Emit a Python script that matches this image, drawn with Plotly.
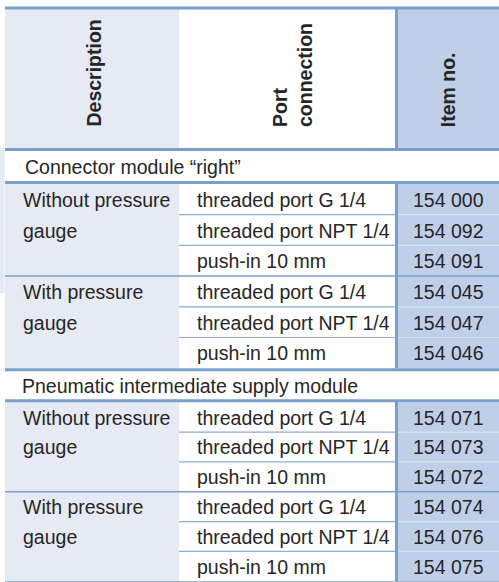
import plotly.graph_objects as go

# ---------------- data ----------------
header_labels = ["Description", "Port<br>connection", "Item no."]
sections = ["Connector module “right”", "Pneumatic intermediate supply module"]
description_lines = [["Without pressure", "gauge"], ["With pressure", "gauge"]]
ports = ["threaded port G 1/4", "threaded port NPT 1/4", "push-in 10 mm"]
item_numbers = [
    [["154 000", "154 092", "154 091"], ["154 045", "154 047", "154 046"]],
    [["154 071", "154 073", "154 072"], ["154 074", "154 076", "154 075"]],
]

# ---------------- style / layout ----------------
W, H = 499, 582
X0, X1, X2, X3 = 5, 179, 396.5, 499
LIGHT = "#E6EAF4"
ITEM = "#BFCFE7"
LINE = "#7A9FCD"
THIN = "#8DACD7"
THIN_ITEM = "#D9E2F1"
TXT = "#262626"
FONT = "Liberation Sans, Arial, sans-serif"
FS = 19.5

sec_h = [30, 28]
row_h = [30.7, 29.85]

shapes = []
annotations = []


def rect(x0, y0, x1, y1, color):
    shapes.append(dict(type="rect", xref="x", yref="y", x0=x0, x1=x1, y0=y0, y1=y1,
                       fillcolor=color, line=dict(width=0), layer="below"))


def hline(x0, x1, y, color, w):
    shapes.append(dict(type="line", xref="x", yref="y", x0=x0, x1=x1, y0=y, y1=y,
                       line=dict(color=color, width=w)))


def vline(x, y0, y1, color, w):
    shapes.append(dict(type="line", xref="x", yref="y", x0=x, x1=x, y0=y0, y1=y1,
                       line=dict(color=color, width=w)))


def text(x, y, s, xanchor="left", bold=False, angle=0, yanchor="middle", align="left"):
    annotations.append(dict(x=x, y=y, xref="x", yref="y", text=s, showarrow=False,
                            xanchor=xanchor, yanchor=yanchor, align=align, textangle=angle,
                            font=dict(family=FONT, size=FS, color=TXT,
                                      weight="bold" if bold else "normal")))


# left page strip artifact
rect(0, 148, 4.5, 293, LIGHT)

# header
top_line = 8
head_bot = 149.5
rect(X0, top_line, X1, head_bot, LIGHT)
rect(X2, top_line, X3, head_bot, ITEM)
vline(X2, top_line, head_bot, LINE, 3)
hline(X0, X3, top_line, LINE, 3)
text((X0 + X1) / 2 + 1, 129, header_labels[0], xanchor="center", bold=True, angle=-90, yanchor="bottom")
text(292, 129, header_labels[1], xanchor="center", bold=True, angle=-90, yanchor="bottom")
text((X2 + X3) / 2, 129, header_labels[2], xanchor="center", bold=True, angle=-90, yanchor="bottom")

y = head_bot
for si, sec in enumerate(sections):
    # section title row (white)
    sy0 = y + 1.5
    sy1 = sy0 + sec_h[si]
    text(X0 + 18 if si == 0 else X0 + 15, (sy0 + sy1) / 2 + 0.5, sec)
    y = sy1 + 1.5  # center of thick line below section
    hline(X0, X3, y, LINE, 3)
    block_top = y + 1.5
    rh = row_h[si]
    ry = block_top
    for gi, desc in enumerate(description_lines):
        gy0 = ry
        gy1 = gy0 + 3 * rh
        rect(X0, gy0, X1, gy1, LIGHT)
        rect(X2, gy0, X3, gy1, ITEM)
        for li, line_txt in enumerate(desc):
            text(X0 + 15.5, gy0 + (li + 0.5) * rh + 0.5, line_txt)
        for pi, port in enumerate(ports):
            cy = gy0 + (pi + 0.5) * rh + 0.5
            text(X1 + 15.5, cy, port)
            text((X2 + X3) / 2 + 1, cy, item_numbers[si][gi][pi], xanchor="center")
            if pi > 0:
                ly = gy0 + pi * rh
                hline(X1, X2, ly, THIN, 1.2)
                hline(X2 + 1.5, X3, ly, THIN_ITEM, 1.2)
        if gi > 0:
            hline(X0, X3, gy0, LINE, 1.5)
        ry = gy1
    vline(X2, block_top - 1.5, ry, LINE, 3)
    y = ry + 1.5
    hline(X0, X3, y, LINE, 3)

hline(X0, X3, head_bot, LINE, 3)

fig = go.Figure()
fig.update_layout(
    width=W, height=H,
    margin=dict(l=0, r=0, t=0, b=0),
    paper_bgcolor="white", plot_bgcolor="white",
    xaxis=dict(range=[0, W], visible=False, fixedrange=True),
    yaxis=dict(range=[H, 0], visible=False, fixedrange=True),
    shapes=shapes, annotations=annotations, showlegend=False,
)
fig.write_html(
    "out.html",
    config={"displayModeBar": False},
    post_script="document.body.style.margin='0';document.body.style.overflow='hidden';",
)
